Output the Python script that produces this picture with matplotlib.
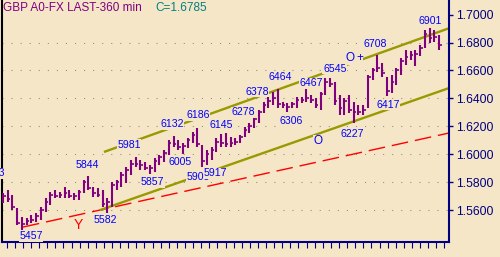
import matplotlib
matplotlib.use('Agg')
import matplotlib.pyplot as plt
from matplotlib.ticker import MultipleLocator, FixedLocator

# 6-hour GBP bars (high / low / close), oldest first
highs = [1.5722, 1.5743, 1.5707, 1.5614, 1.5549, 1.5542, 1.5564, 1.5578, 1.5621, 1.5686,
         1.5729, 1.5743, 1.5729, 1.5765, 1.5743, 1.5722, 1.5743, 1.5815, 1.5844, 1.5765,
         1.5758, 1.5743, 1.5686, 1.5801, 1.5815, 1.5872, 1.5908, 1.5958, 1.5981, 1.5958,
         1.5944, 1.5922, 1.5972, 1.5994, 1.6030, 1.6102, 1.6132, 1.6102, 1.6080, 1.6116,
         1.6159, 1.6186, 1.6066, 1.6030, 1.6051, 1.6116, 1.6145, 1.6152, 1.6123, 1.6116,
         1.6138, 1.6195, 1.6224, 1.6274, 1.6317, 1.6374, 1.6417, 1.6446, 1.6464, 1.6374,
         1.6367, 1.6374, 1.6410, 1.6410, 1.6467, 1.6424, 1.6403, 1.6446, 1.6545, 1.6545,
         1.6517, 1.6424, 1.6403, 1.6424, 1.6374, 1.6353, 1.6353, 1.6568, 1.6618, 1.6708,
         1.6654, 1.6553, 1.6568, 1.6618, 1.6690, 1.6747, 1.6740, 1.6747, 1.6783, 1.6890,
         1.6901, 1.6890, 1.6854]
lows = [1.5650, 1.5657, 1.5600, 1.5492, 1.5457, 1.5492, 1.5506, 1.5514, 1.5528, 1.5585,
        1.5635, 1.5686, 1.5686, 1.5686, 1.5686, 1.5671, 1.5671, 1.5722, 1.5743, 1.5693,
        1.5693, 1.5621, 1.5582, 1.5621, 1.5743, 1.5765, 1.5793, 1.5851, 1.5908, 1.5886,
        1.5886, 1.5857, 1.5872, 1.5922, 1.5944, 1.5994, 1.6051, 1.6030, 1.6005, 1.6044,
        1.6080, 1.6051, 1.5905, 1.5922, 1.5958, 1.6015, 1.6051, 1.6051, 1.6051, 1.6066,
        1.6080, 1.6123, 1.6152, 1.6188, 1.6224, 1.6295, 1.6331, 1.6353, 1.6331, 1.6331,
        1.6306, 1.6331, 1.6331, 1.6367, 1.6374, 1.6367, 1.6331, 1.6317, 1.6424, 1.6482,
        1.6353, 1.6281, 1.6281, 1.6295, 1.6227, 1.6281, 1.6281, 1.6331, 1.6532, 1.6589,
        1.6553, 1.6417, 1.6439, 1.6496, 1.6568, 1.6639, 1.6675, 1.6632, 1.6704, 1.6761,
        1.6797, 1.6804, 1.6747]
closes = [1.5700, 1.5680, 1.5620, 1.5510, 1.5500, 1.5520, 1.5530, 1.5560, 1.5600, 1.5660,
          1.5710, 1.5700, 1.5710, 1.5720, 1.5700, 1.5700, 1.5730, 1.5800, 1.5760, 1.5720,
          1.5710, 1.5640, 1.5660, 1.5780, 1.5800, 1.5850, 1.5890, 1.5930, 1.5930, 1.5920,
          1.5900, 1.5900, 1.5950, 1.5980, 1.6010, 1.6080, 1.6070, 1.6050, 1.6060, 1.6100,
          1.6140, 1.6070, 1.5950, 1.6000, 1.6030, 1.6090, 1.6080, 1.6070, 1.6080, 1.6090,
          1.6120, 1.6170, 1.6200, 1.6250, 1.6300, 1.6350, 1.6380, 1.6400, 1.6360, 1.6350,
          1.6340, 1.6360, 1.6390, 1.6390, 1.6400, 1.6390, 1.6350, 1.6430, 1.6520, 1.6500,
          1.6380, 1.6330, 1.6380, 1.6320, 1.6300, 1.6300, 1.6320, 1.6550, 1.6600, 1.6620,
          1.6580, 1.6450, 1.6520, 1.6600, 1.6670, 1.6700, 1.6710, 1.6720, 1.6760, 1.6860,
          1.6830, 1.6840, 1.6785]

# pivot labels (bar position, price level of the text)
pivot_text = ['5873', '5457', '5844', '5582', '5981', '5857', '6132', '6005', '6186', '5905',
              '5917', '6145', '6278', '6378', '6464', '6306', '6467', '6545', '6227', '6708',
              '6417', '6901']
pivot_x = [0.45, 5.9, 17.7, 21.5, 26.6, 31.6, 35.7, 37.3, 41.1, 41.1,
           44.9, 46.0, 50.6, 53.6, 58.6, 60.8, 65.0, 70.0, 73.6, 78.5,
           81.2, 90.1]
pivot_y = [1.5865, 1.5413, 1.5922, 1.5528, 1.6066, 1.5800, 1.6216, 1.5944, 1.6281, 1.5836,
           1.5865, 1.6209, 1.6302, 1.6446, 1.6553, 1.6238, 1.6510, 1.6611, 1.6145, 1.6790,
           1.6353, 1.6955]

# trend lines: (start bar, start price), (end bar, end price)
upper_x = [21.3, 94.3]
upper_y = [1.6016, 1.6905]
lower_x = [20.5, 94.1]
lower_y = [1.5600, 1.6474]
red_x = [4.2, 94.1]
red_y = [1.5478, 1.6152]

yticks = [1.56, 1.58, 1.60, 1.62, 1.64, 1.66, 1.68, 1.70]
grid_levels = [1.56, 1.58, 1.60, 1.62, 1.64, 1.66, 1.68]
last_close = 1.6785

bg = '#f5e6c8'
navy = '#000080'
font = 'Liberation Sans'

fig = plt.figure(figsize=(5, 2.57), dpi=100, facecolor=bg)
ax = fig.add_axes([0.004, 0.0584, 0.894, 0.9416], facecolor=bg)

for g in grid_levels:
    ax.axhline(g, color='#8a8a80', lw=0.75, linestyle=(0, (1, 7.7)), zorder=1)

ax.plot(red_x, red_y, color='#ff0000', lw=1, linestyle=(0, (12, 5)), zorder=2)
ax.plot(upper_x, upper_y, color='#999900', lw=1.7, zorder=2, solid_capstyle='butt')
ax.plot(lower_x, lower_y, color='#999900', lw=1.7, zorder=2, solid_capstyle='butt')

xs = list(range(len(highs)))
ax.vlines(xs, lows, highs, color='#800080', lw=1.5, zorder=3)
ax.hlines(closes, [i - 0.1 for i in xs], [i + 0.55 for i in xs],
          color='#800080', lw=1.2, zorder=3)

for t, xi, yi in zip(pivot_text, pivot_x, pivot_y):
    ax.text(xi, yi, t, color='#0000ff', fontsize=7.6, family=font,
            ha='right' if xi < 1 else 'center', va='center', zorder=4,
            bbox=dict(boxstyle='square,pad=0.05', fc=bg, ec='none'))

ax.text(73.2, 1.6690, 'O', color='#0000ff', fontsize=8.5, family=font,
        ha='center', va='center', zorder=4,
        bbox=dict(boxstyle='square,pad=0.05', fc=bg, ec='none'))
ax.text(75.2, 1.6690, '+', color='#0000ff', fontsize=8.5, family=font,
        ha='center', va='center', zorder=4,
        bbox=dict(boxstyle='square,pad=0.05', fc=bg, ec='none'))
ax.text(66.5, 1.6094, 'O', color='#0000ff', fontsize=8.5, family=font,
        ha='center', va='center', zorder=4,
        bbox=dict(boxstyle='square,pad=0.05', fc=bg, ec='none'))
ax.text(15.8, 1.5492, 'Y', color='#ff0000', fontsize=10, family=font,
        ha='center', va='center', zorder=4)

ax.set_xlim(-0.21, 94.1)
ax.set_ylim(1.5371, 1.7105)

ax.yaxis.tick_right()
ax.yaxis.set_major_locator(FixedLocator(yticks))
ax.set_yticklabels(['%.4f' % v for v in yticks])
ax.tick_params(axis='y', direction='out', length=3, width=1, color=navy,
               labelcolor=navy, labelsize=8.7, pad=2)
for lab in ax.get_yticklabels():
    lab.set_family(font)

ax.xaxis.set_major_locator(MultipleLocator(1.71, offset=0.78))
ax.tick_params(axis='x', direction='out', length=4.1, width=0.8, color=navy,
               labelbottom=False)

ax.spines['top'].set_visible(False)
ax.spines['left'].set_color('black')
ax.spines['left'].set_linewidth(1.5)
ax.spines['right'].set_color(navy)
ax.spines['right'].set_linewidth(1.5)
ax.spines['bottom'].set_color(navy)
ax.spines['bottom'].set_linewidth(1.5)

fig.text(3 / 500, 1 - 8 / 257, 'GBP A0-FX LAST-360 min', color='#800080',
         fontsize=8.5, family=font, va='center')
fig.text(155 / 500, 1 - 8 / 257, 'C=%.4f' % last_close, color='#008080',
         fontsize=8.5, family=font, va='center')

fig.savefig('out.png', dpi=100, facecolor=bg)
